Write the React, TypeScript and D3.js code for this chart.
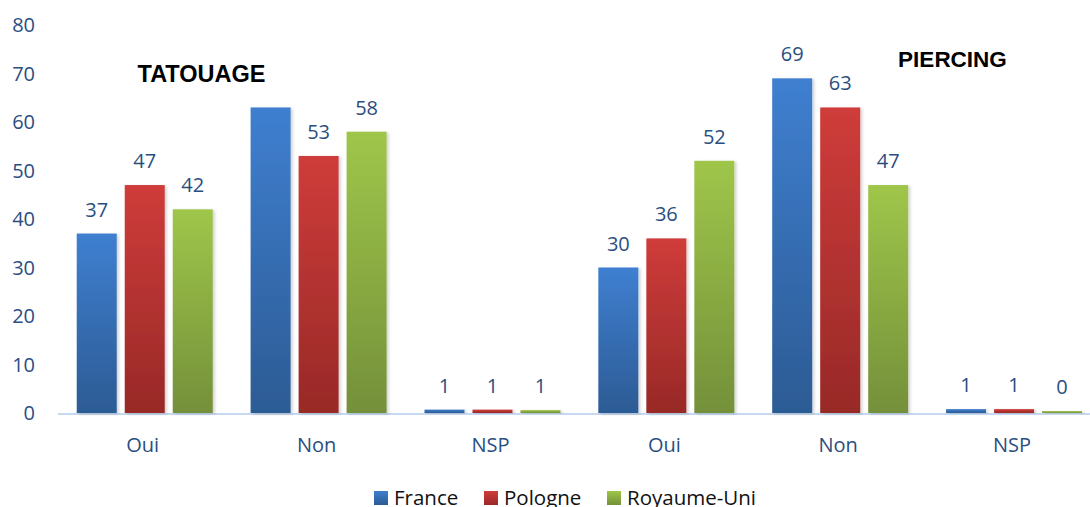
import React from "react";
import * as d3 from "d3";

const groups = ["Oui", "Non", "NSP", "Oui", "Non", "NSP"];
const seriesNames = ["France", "Pologne", "Royaume-Uni"];
const france = [37, 63, 0.7, 30, 69, 0.8];
const pologne = [47, 53, 0.7, 36, 63, 0.8];
const royaumeUni = [42, 58, 0.6, 52, 47, 0.4];
const labelsFrance = ["37", "", "1", "30", "69", "1"];
const labelsPologne = ["47", "53", "1", "36", "63", "1"];
const labelsRU = ["42", "58", "1", "52", "47", "0"];
const yTicks = [0, 10, 20, 30, 40, 50, 60, 70, 80];
const sectionTitles = ["TATOUAGE", "PIERCING"];

const colors = [
  { top: "#3f7fd0", bottom: "#2c5b94" },
  { top: "#cf3c3a", bottom: "#982927" },
  { top: "#9fc64a", bottom: "#74903a" },
];

export default function App() {
  const W = 1090, H = 507;
  const x0 = 57.8, x1 = 1101;
  const y = d3.scaleLinear().domain([0, 80]).range([413, 25]);
  const gx = d3.scaleBand<number>().domain(d3.range(groups.length)).range([x0, x1]).paddingInner(0).paddingOuter(0);
  const outerPad = (gx.bandwidth() - 136) / 2;
  const inner = d3.scaleBand<number>().domain([0, 1, 2]).range([outerPad, outerPad + 136]).paddingInner(1 / 6).paddingOuter(0);
  const data = [france, pologne, royaumeUni];
  const labels = [labelsFrance, labelsPologne, labelsRU];
  const font = "'Open Sans', 'Noto Sans', sans-serif";
  const textColor = "#2a4e80";

  return (
    <svg width={W} height={H} style={{ position: "absolute", left: 0, top: 0, background: "#fff" }}>
      <defs>
        {colors.map((c, i) => (
          <linearGradient key={i} id={`g${i}`} x1="0" y1="0" x2="0" y2="1">
            <stop offset="0" stopColor={c.top} />
            <stop offset="1" stopColor={c.bottom} />
          </linearGradient>
        ))}
        <filter id="sh" x="-20%" y="-5%" width="140%" height="115%">
          <feDropShadow dx="2" dy="1" stdDeviation="1.5" floodColor="#000" floodOpacity="0.18" />
        </filter>
      </defs>
      {yTicks.map((t) => (
        <text key={t} x={35} y={y(t)} dy="0.36em" textAnchor="end" fontFamily={font} fontSize={20} fill={textColor}>
          {t}
        </text>
      ))}
      <line x1={58} x2={W} y1={y(0) + 1} y2={y(0) + 1} stroke="#c6d9f1" strokeWidth={2} />
      {groups.map((g, gi) => (
        <g key={gi}>
          {data.map((s, si) => {
            const bx = (gx(gi) as number) + (inner(si) as number);
            const bw = inner.bandwidth();
            const v = s[gi];
            return (
              <g key={si}>
                <rect x={bx} y={y(v)} width={bw} height={y(0) - y(v)} fill={`url(#g${si})`} filter="url(#sh)" />
                {labels[si][gi] !== "" && (
                  <text x={bx + bw / 2} y={y(Math.max(v, 0)) - 17} textAnchor="middle" fontFamily={font} fontSize={20} fill={textColor}>
                    {labels[si][gi]}
                  </text>
                )}
              </g>
            );
          })}
          <text x={(gx(gi) as number) + gx.bandwidth() / 2 - 2} y={452} textAnchor="middle" fontFamily={font} fontSize={20} fill={textColor}>
            {g}
          </text>
        </g>
      ))}
      <text x={201.5} y={82} textAnchor="middle" fontFamily="'Liberation Sans', Arial, sans-serif" fontWeight="bold" fontSize={23.5} fill="#000">
        {sectionTitles[0]}
      </text>
      <text x={952.5} y={67} textAnchor="middle" fontFamily="'Liberation Sans', Arial, sans-serif" fontWeight="bold" fontSize={22.5} fill="#000">
        {sectionTitles[1]}
      </text>
      {seriesNames.map((n, i) => {
        const lx = [374, 484, 607][i];
        return (
          <g key={n}>
            <rect x={lx} y={491} width={14} height={14} fill={`url(#g${i})`} />
            <text x={lx + 20} y={505} fontFamily={font} fontSize={20.5} fill="#111">
              {n}
            </text>
          </g>
        );
      })}
    </svg>
  );
}
